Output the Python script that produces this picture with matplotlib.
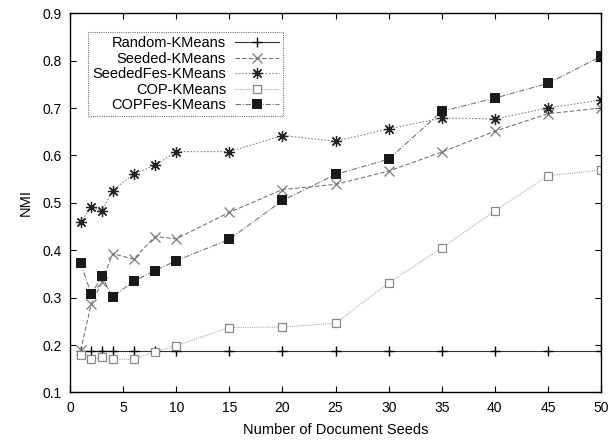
import numpy as np
import matplotlib.pyplot as plt

plt.rcParams['font.family'] = ['Liberation Sans', 'DejaVu Sans']
plt.rcParams['font.size'] = 10

seeds = [1, 2, 3, 4, 6, 8, 10, 15, 20, 25, 30, 35, 40, 45, 50]

random_km = [0.188] * 15
seeded_km = [0.189, 0.287, 0.333, 0.393, 0.381, 0.429, 0.424, 0.480,
             0.528, 0.539, 0.567, 0.607, 0.651, 0.688, 0.700]
seededfes_km = [0.459, 0.492, 0.482, 0.526, 0.561, 0.579, 0.608, 0.608,
                0.642, 0.630, 0.656, 0.679, 0.677, 0.700, 0.717]
cop_km = [0.180, 0.170, 0.174, 0.170, 0.170, 0.186, 0.199, 0.237,
          0.238, 0.246, 0.331, 0.405, 0.483, 0.557, 0.569]
copfes_km = [0.373, 0.307, 0.345, 0.301, 0.335, 0.357, 0.378, 0.423,
             0.505, 0.560, 0.592, 0.693, 0.721, 0.752, 0.809]

fig = plt.figure(figsize=(6.09, 4.40), dpi=100)
ax = fig.add_axes([0.115, 0.108, 0.872, 0.862])

lw = 0.8
ax.plot(seeds, random_km, color='#333333', lw=lw, ls='-', marker='+',
        ms=7, mew=1.0, mec='black', label='Random-KMeans')
ax.plot(seeds, seeded_km, color='#777777', lw=lw, ls=(0, (4, 2)), marker='x',
        ms=6.5, mew=0.9, mec='#777777', label='Seeded-KMeans')
ax.plot(seeds, seededfes_km, color='#888888', lw=lw, ls=(0, (1.5, 1.5)),
        marker=(8, 2, 0), ms=8, mew=0.9, mec='#222222', label='SeededFes-KMeans')
ax.plot(seeds, cop_km, color='#aaaaaa', lw=lw, ls=(0, (1, 1)), marker='s',
        ms=6, mew=0.9, mfc='white', mec='#888888', label='COP-KMeans')
ax.plot(seeds, copfes_km, color='#777777', lw=lw, ls=(0, (5, 1.5, 1, 1.5)),
        marker='s', ms=6.5, mew=0, mfc='#1a1a1a', label='COPFes-KMeans')

ax.set_xlim(0, 50)
ax.set_ylim(0.1, 0.9)
ax.set_xticks(np.arange(0, 51, 5))
ax.set_yticks(np.arange(0.1, 0.91, 0.1))
ax.set_yticklabels(['%.1f' % v for v in np.arange(0.1, 0.91, 0.1)])
ax.tick_params(direction='in', top=True, right=True, length=4, width=0.8, pad=6)
for s in ax.spines.values():
    s.set_linewidth(1.0)

ax.set_xlabel('Number of Document Seeds', fontsize=10.5, labelpad=6)
ax.set_ylabel('NMI', fontsize=10.5, labelpad=7)

leg = ax.legend(loc='upper left', bbox_to_anchor=(0.02, 0.97), markerfirst=False,
                handlelength=3.0, labelspacing=0.1, borderpad=0.3,
                handletextpad=0.6, fancybox=False, framealpha=1, fontsize=10.5)
leg.get_frame().set_edgecolor('#777777')
leg.get_frame().set_linestyle((0, (1, 1)))
leg.get_frame().set_linewidth(0.8)

fig.savefig('out.png', dpi=100)
